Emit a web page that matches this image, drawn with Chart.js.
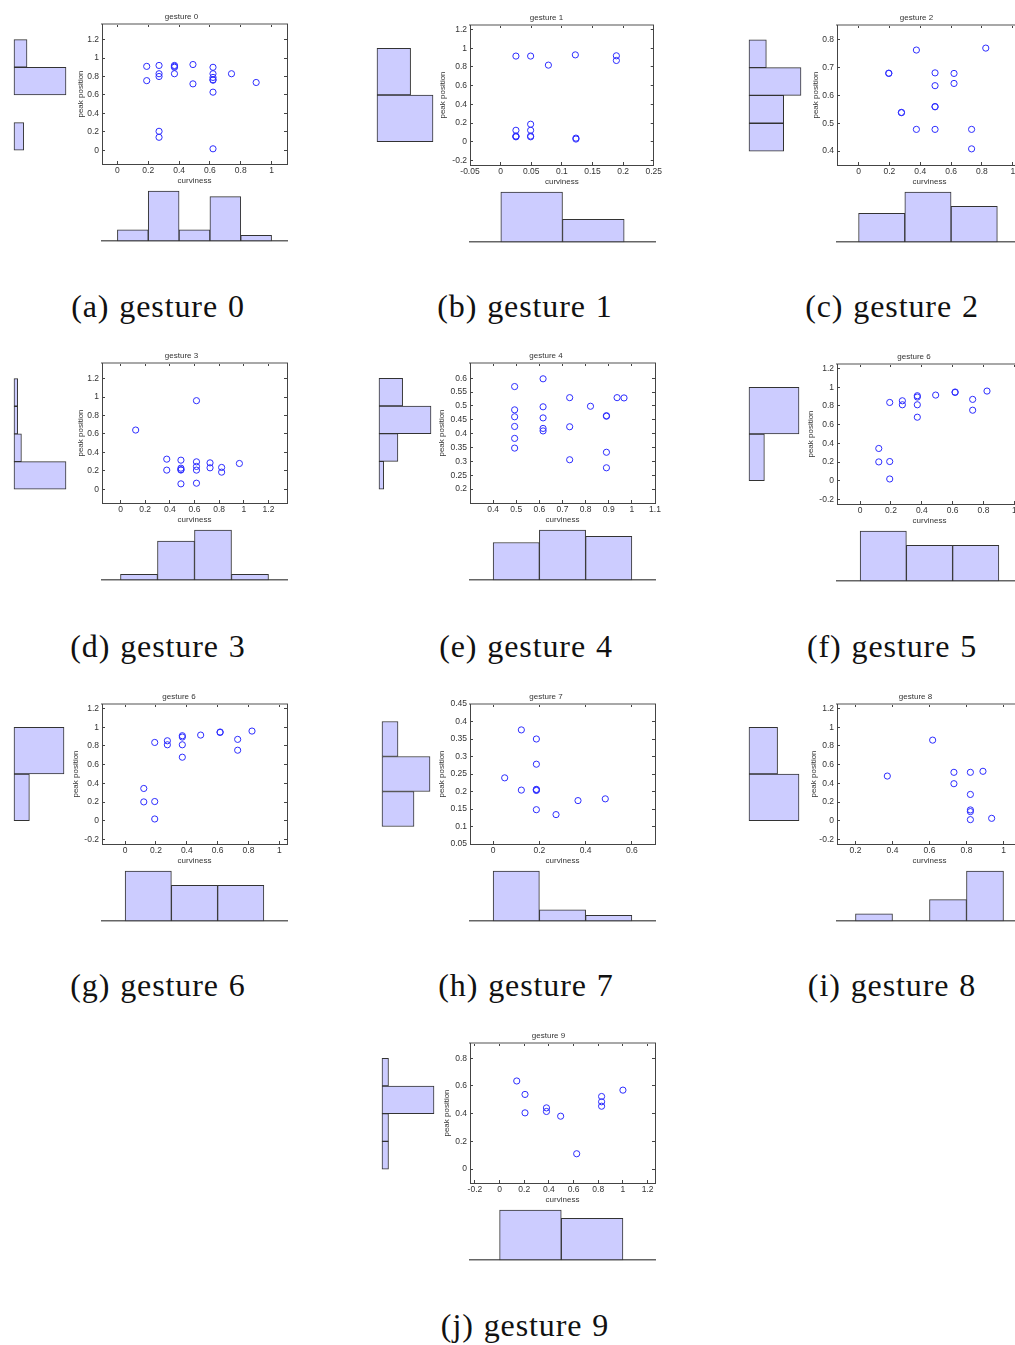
<!DOCTYPE html>
<html>
<head>
<meta charset="utf-8">
<script src="https://cdn.jsdelivr.net/npm/chart.js@4.4.0/dist/chart.umd.min.js"></script>
<style>
  html, body { margin: 0; padding: 0; background: #fff; }
  body { width: 1015px; height: 1345px; overflow: hidden; position: relative; }
  canvas.cv { position: absolute; }
  .cap {
    position: absolute; white-space: nowrap; color: #111;
    font-family: "Liberation Serif", "Times New Roman", serif;
    font-size: 32px; line-height: 32px; letter-spacing: 0.9px; word-spacing: 1px;
    transform: translateX(-50%);
  }
</style>
</head>
<body>
<script>
// ---- gesture 0 ----
const g0Curviness = [0.19,0.19,0.27,0.27,0.27,0.27,0.27,0.37,0.37,0.37,0.37,0.49,0.49,0.62,0.62,0.62,0.62,0.62,0.62,0.62,0.74,0.90];
const g0Peak      = [0.91,0.755,0.92,0.83,0.80,0.205,0.14,0.92,0.91,0.90,0.83,0.93,0.72,0.90,0.83,0.79,0.765,0.76,0.63,0.015,0.83,0.735];
const g0CurvTicks = [0,0.2,0.4,0.6,0.8,1];
const g0PeakTicks = [0,0.2,0.4,0.6,0.8,1,1.2];
const g0CurvRange = [-0.1,1.1];
const g0PeakRange = [-0.15,1.37];
const g0CurvBins = [0.1,0.3,0.5,0.7,0.9];
const g0CurvCounts = [2,9,2,8,1];
const g0PeakBins = [0.15,0.45,0.75,1.05];
const g0PeakCounts = [3,0,16,4];

// ---- gesture 1 ----
const g1Curviness = [0.025,0.025,0.025,0.025,0.025,0.049,0.049,0.049,0.049,0.049,0.078,0.122,0.123,0.123,0.189,0.189];
const g1Peak      = [0.917,0.122,0.06,0.055,0.052,0.917,0.187,0.122,0.06,0.052,0.82,0.93,0.038,0.028,0.92,0.87];
const g1CurvTicks = [-0.05,0,0.05,0.1,0.15,0.2,0.25];
const g1PeakTicks = [-0.2,0,0.2,0.4,0.6,0.8,1,1.2];
const g1CurvRange = [-0.05,0.25];
const g1PeakRange = [-0.25,1.25];
const g1CurvBins = [0.05,0.15];
const g1CurvCounts = [11,5];
const g1PeakBins = [0.25,0.75];
const g1PeakCounts = [10,6];

// ---- gesture 2 ----
const g2Curviness = [0.196,0.196,0.278,0.278,0.375,0.375,0.496,0.496,0.496,0.496,0.496,0.619,0.619,0.733,0.733,0.825];
const g2Peak      = [0.68,0.679,0.539,0.538,0.763,0.478,0.681,0.635,0.56,0.559,0.478,0.679,0.643,0.478,0.408,0.77];
const g2CurvTicks = [0,0.2,0.4,0.6,0.8,1];
const g2PeakTicks = [0.4,0.5,0.6,0.7,0.8];
const g2CurvRange = [-0.14,1.06];
const g2PeakRange = [0.35,0.853];
const g2CurvBins = [0.15,0.45,0.75];
const g2CurvCounts = [4,7,5];
const g2PeakBins = [0.45,0.55,0.65,0.75];
const g2PeakCounts = [4,4,6,2];

// ---- gesture 3 ----
const g3Curviness = [0.123,0.375,0.375,0.49,0.49,0.49,0.49,0.49,0.616,0.616,0.616,0.616,0.616,0.726,0.726,0.82,0.82,0.964];
const g3Peak      = [0.642,0.326,0.207,0.315,0.228,0.212,0.208,0.058,0.961,0.297,0.247,0.207,0.065,0.286,0.232,0.236,0.185,0.279];
const g3CurvTicks = [0,0.2,0.4,0.6,0.8,1,1.2];
const g3PeakTicks = [0,0.2,0.4,0.6,0.8,1,1.2];
const g3CurvRange = [-0.15,1.35];
const g3PeakRange = [-0.15,1.37];
const g3CurvBins = [0.15,0.45,0.75,1.05];
const g3CurvCounts = [1,7,9,1];
const g3PeakBins = [0.15,0.45,0.75,1.05];
const g3PeakCounts = [14,2,1,1];

// ---- gesture 4 ----
const g4Curviness = [0.493,0.493,0.493,0.493,0.493,0.493,0.616,0.616,0.616,0.616,0.616,0.731,0.731,0.731,0.821,0.89,0.89,0.89,0.89,0.936,0.966];
const g4Peak      = [0.57,0.486,0.461,0.426,0.383,0.348,0.598,0.497,0.457,0.419,0.41,0.53,0.425,0.306,0.499,0.465,0.463,0.333,0.277,0.53,0.529];
const g4CurvTicks = [0.4,0.5,0.6,0.7,0.8,0.9,1,1.1];
const g4PeakTicks = [0.2,0.25,0.3,0.35,0.4,0.45,0.5,0.55,0.6];
const g4CurvRange = [0.3,1.1];
const g4PeakRange = [0.15,0.655];
const g4CurvBins = [0.5,0.7,0.9];
const g4CurvCounts = [6,8,7];
const g4PeakBins = [0.25,0.35,0.45,0.55];
const g4PeakCounts = [1,4,11,5];

// ---- gesture 6 ----
const g6Curviness = [0.121,0.121,0.192,0.192,0.192,0.274,0.274,0.371,0.371,0.371,0.371,0.49,0.616,0.616,0.73,0.73,0.823];
const g6Peak      = [0.345,0.201,0.838,0.205,0.018,0.856,0.813,0.91,0.896,0.813,0.68,0.917,0.95,0.945,0.871,0.755,0.96];
const g6CurvTicks = [0,0.2,0.4,0.6,0.8,1];
const g6PeakTicks = [-0.2,0,0.2,0.4,0.6,0.8,1,1.2];
const g6CurvRange = [-0.15,1.05];
const g6PeakRange = [-0.25,1.25];
const g6CurvBins = [0.15,0.45,0.75];
const g6CurvCounts = [7,5,5];
const g6PeakBins = [0.25,0.75];
const g6PeakCounts = [4,13];

// ---- gesture 7 ----
const g7Curviness = [0.05,0.122,0.122,0.187,0.187,0.187,0.187,0.187,0.187,0.272,0.367,0.485];
const g7Peak      = [0.239,0.376,0.204,0.35,0.278,0.205,0.203,0.206,0.148,0.134,0.174,0.179];
const g7CurvTicks = [0,0.2,0.4,0.6];
const g7PeakTicks = [0.05,0.1,0.15,0.2,0.25,0.3,0.35,0.4,0.45];
const g7CurvRange = [-0.1,0.7];
const g7PeakRange = [0.05,0.45];
const g7CurvBins = [0.1,0.3,0.5];
const g7CurvCounts = [9,2,1];
const g7PeakBins = [0.15,0.25,0.35];
const g7PeakCounts = [4,6,2];

// ---- gesture 8 ----
const g8Curviness = [0.372,0.617,0.732,0.732,0.821,0.821,0.821,0.821,0.821,0.889,0.936];
const g8Peak      = [0.478,0.863,0.518,0.396,0.518,0.281,0.115,0.097,0.011,0.529,0.025];
const g8CurvTicks = [0.2,0.4,0.6,0.8,1];
const g8PeakTicks = [-0.2,0,0.2,0.4,0.6,0.8,1,1.2];
const g8CurvRange = [0.1,1.1];
const g8PeakRange = [-0.25,1.25];
const g8CurvBins = [0.3,0.5,0.7,0.9];
const g8CurvCounts = [1,0,3,7];
const g8PeakBins = [0.25,0.75];
const g8PeakCounts = [7,4];

// ---- gesture 9 ----
const g9Curviness = [0.139,0.206,0.206,0.38,0.38,0.495,0.625,0.827,0.827,0.827,1.0];
const g9Peak      = [0.636,0.539,0.406,0.442,0.416,0.382,0.111,0.524,0.486,0.454,0.57];
const g9CurvTicks = [-0.2,0,0.2,0.4,0.6,0.8,1,1.2];
const g9PeakTicks = [0,0.2,0.4,0.6,0.8];
const g9CurvRange = [-0.24,1.26];
const g9PeakRange = [-0.1,0.91];
const g9CurvBins = [0.25,0.75];
const g9CurvCounts = [6,5];
const g9PeakBins = [0.1,0.3,0.5,0.7];
const g9PeakCounts = [1,1,8,1];

const gestures = {
  g0: { x: g0Curviness, y: g0Peak, xt: g0CurvTicks, yt: g0PeakTicks, xr: g0CurvRange, yr: g0PeakRange, xb: g0CurvBins, xc: g0CurvCounts, yb: g0PeakBins, yc: g0PeakCounts },
  g1: { x: g1Curviness, y: g1Peak, xt: g1CurvTicks, yt: g1PeakTicks, xr: g1CurvRange, yr: g1PeakRange, xb: g1CurvBins, xc: g1CurvCounts, yb: g1PeakBins, yc: g1PeakCounts },
  g2: { x: g2Curviness, y: g2Peak, xt: g2CurvTicks, yt: g2PeakTicks, xr: g2CurvRange, yr: g2PeakRange, xb: g2CurvBins, xc: g2CurvCounts, yb: g2PeakBins, yc: g2PeakCounts },
  g3: { x: g3Curviness, y: g3Peak, xt: g3CurvTicks, yt: g3PeakTicks, xr: g3CurvRange, yr: g3PeakRange, xb: g3CurvBins, xc: g3CurvCounts, yb: g3PeakBins, yc: g3PeakCounts },
  g4: { x: g4Curviness, y: g4Peak, xt: g4CurvTicks, yt: g4PeakTicks, xr: g4CurvRange, yr: g4PeakRange, xb: g4CurvBins, xc: g4CurvCounts, yb: g4PeakBins, yc: g4PeakCounts },
  g6: { x: g6Curviness, y: g6Peak, xt: g6CurvTicks, yt: g6PeakTicks, xr: g6CurvRange, yr: g6PeakRange, xb: g6CurvBins, xc: g6CurvCounts, yb: g6PeakBins, yc: g6PeakCounts },
  g7: { x: g7Curviness, y: g7Peak, xt: g7CurvTicks, yt: g7PeakTicks, xr: g7CurvRange, yr: g7PeakRange, xb: g7CurvBins, xc: g7CurvCounts, yb: g7PeakBins, yc: g7PeakCounts },
  g8: { x: g8Curviness, y: g8Peak, xt: g8CurvTicks, yt: g8PeakTicks, xr: g8CurvRange, yr: g8PeakRange, xb: g8CurvBins, xc: g8CurvCounts, yb: g8PeakBins, yc: g8PeakCounts },
  g9: { x: g9Curviness, y: g9Peak, xt: g9CurvTicks, yt: g9PeakTicks, xr: g9CurvRange, yr: g9PeakRange, xb: g9CurvBins, xc: g9CurvCounts, yb: g9PeakBins, yc: g9PeakCounts }
};

// Page placement of each sub-figure (plot box corner, y-label gap, left histogram, caption).
const panels = [
  { key: 'g0', title: 'gesture 0', caption: '(a) gesture 0', left: 102, top: 24,   yGap: 21, histX: 14,  histLen: 52, capX: 158, capY: 307 },
  { key: 'g1', title: 'gesture 1', caption: '(b) gesture 1', left: 470, top: 25,   yGap: 27, histX: 377, histLen: 56, capX: 525, capY: 307 },
  { key: 'g2', title: 'gesture 2', caption: '(c) gesture 2', left: 837, top: 25,   yGap: 21, histX: 749, histLen: 52, capX: 892, capY: 307 },
  { key: 'g3', title: 'gesture 3', caption: '(d) gesture 3', left: 102, top: 363,  yGap: 21, histX: 14,  histLen: 52, capX: 158, capY: 647 },
  { key: 'g4', title: 'gesture 4', caption: '(e) gesture 4', left: 470, top: 363,  yGap: 28, histX: 379, histLen: 52, capX: 526, capY: 647 },
  { key: 'g6', title: 'gesture 6', caption: '(f) gesture 5', left: 837, top: 364,  yGap: 26, histX: 749, histLen: 50, capX: 892, capY: 647 },
  { key: 'g6', title: 'gesture 6', caption: '(g) gesture 6', left: 102, top: 704,  yGap: 26, histX: 14,  histLen: 50, capX: 158, capY: 986 },
  { key: 'g7', title: 'gesture 7', caption: '(h) gesture 7', left: 470, top: 704,  yGap: 28, histX: 382, histLen: 48, capX: 526, capY: 986 },
  { key: 'g8', title: 'gesture 8', caption: '(i) gesture 8', left: 837, top: 704,  yGap: 23, histX: 749, histLen: 50, capX: 892, capY: 986 },
  { key: 'g9', title: 'gesture 9', caption: '(j) gesture 9', left: 470, top: 1043, yGap: 23, histX: 382, histLen: 52, capX: 525, capY: 1326 }
];

const PLOT_W = 185, PLOT_H = 140;
const TITLE_H = 14, X_AXIS_H = 24, PAD_R = 12;
const HIST_GAP = 167, HIST_H = 50;
const FONT = '"Liberation Sans", Arial, Helvetica, sans-serif';
const MARK = 'rgb(45,45,255)';
const FILL = '#ccccff';
const EDGE = '#333333';

Chart.defaults.font.family = FONT;

const fmt = v => String(Math.round(v * 1000) / 1000);
const tickList = arr => arr.map(v => ({ value: v }));

function makeCanvas(x, y, w, h) {
  const c = document.createElement('canvas');
  c.className = 'cv';
  c.width = w; c.height = h;
  c.style.left = x + 'px'; c.style.top = y + 'px';
  c.style.width = w + 'px'; c.style.height = h + 'px';
  document.body.appendChild(c);
  return c;
}

const baseOptions = {
  responsive: false,
  devicePixelRatio: 1,
  animation: false,
  events: [],
  plugins: { legend: { display: false }, tooltip: { enabled: false } }
};

// Box axis with inward tick marks; top/right copies mirror the ticks without labels.
function frameAxis(position, range, ticks, extra) {
  const horizontal = position === 'top' || position === 'bottom';
  const labelled = position === 'bottom' || position === 'left';
  return Object.assign({
    type: 'linear', position, min: range[0], max: range[1], bounds: 'data', offset: false,
    afterBuildTicks: s => { s.ticks = tickList(ticks); },
    grid: { display: true, drawOnChartArea: false, drawTicks: true, tickLength: -3, color: '#444', tickColor: '#444', lineWidth: 1, offset: false },
    border: { display: true, color: position === 'top' ? '#a8a8a8' : '#444', width: position === 'top' ? 2 : 1 },
    ticks: { display: labelled, autoSkip: false, maxRotation: 0, minRotation: 0, color: '#333',
             font: { family: FONT, size: 8.5 }, padding: horizontal ? 5 : 6, callback: fmt }
  }, extra);
}

function scatterPanel(p, g) {
  const yw = Math.round(p.yGap + 4.8);
  const cv = makeCanvas(p.left - yw, p.top - TITLE_H, yw + PLOT_W + PAD_R, TITLE_H + PLOT_H + X_AXIS_H);
  new Chart(cv, {
    type: 'scatter',
    data: {
      datasets: [{
        data: g.x.map((x, i) => ({ x, y: g.y[i] })),
        pointStyle: 'circle', pointRadius: 3.1, pointHoverRadius: 3.1,
        borderColor: MARK, backgroundColor: 'rgba(0,0,0,0)', borderWidth: 1
      }]
    },
    options: Object.assign({}, baseOptions, {
      layout: { padding: { left: 0, right: PAD_R, top: 0, bottom: 0 } },
      plugins: {
        legend: { display: false }, tooltip: { enabled: false },
        title: { display: true, text: p.title, color: '#333', font: { family: FONT, size: 8, weight: 'normal', lineHeight: 1.2 }, padding: { top: 2, bottom: 2.4 } }
      },
      scales: {
        x: frameAxis('bottom', g.xr, g.xt, {
          afterFit: s => { s.height = X_AXIS_H; },
          title: { display: true, text: 'curviness', color: '#333', font: { family: FONT, size: 8, lineHeight: 1.2 }, padding: { top: 0, bottom: 2 } }
        }),
        x2: frameAxis('top', g.xr, g.xt, { afterFit: s => { s.height = 0; } }),
        y: frameAxis('left', g.yr, g.yt, {
          afterFit: s => { s.width = yw; },
          title: { display: true, text: 'peak position', color: '#333', font: { family: FONT, size: 8, lineHeight: 1.2 }, padding: { top: 0, bottom: 0 } }
        }),
        y2: frameAxis('right', g.yr, g.yt, { afterFit: s => { s.width = 0; } })
      }
    })
  });
}

function histDataset(points) {
  return {
    data: points,
    backgroundColor: FILL, borderColor: EDGE, borderWidth: 1, borderSkipped: false,
    barPercentage: 1, categoryPercentage: 1, clip: false
  };
}

// Curviness histogram under the scatter plot, sharing its horizontal scale.
function bottomHist(p, g) {
  const cv = makeCanvas(p.left - 2, p.top + HIST_GAP - 2, PLOT_W + 4, HIST_H + 4);
  new Chart(cv, {
    type: 'bar',
    data: { datasets: [histDataset(g.xb.map((b, i) => ({ x: b, y: g.xc[i] })))] },
    options: Object.assign({}, baseOptions, {
      layout: { padding: 2 },
      scales: {
        x: { type: 'linear', position: 'bottom', min: g.xr[0], max: g.xr[1], bounds: 'data', offset: false,
             afterBuildTicks: s => { s.ticks = tickList(g.xb); },
             afterFit: s => { s.height = 0; },
             grid: { display: false, drawTicks: false, offset: false }, ticks: { display: false },
             border: { display: true, color: '#666', width: 1.5 } },
        y: { type: 'linear', min: 0, max: Math.max(...g.xc), display: false }
      }
    })
  });
}

// Peak-position histogram to the left, sharing the scatter's vertical scale.
function leftHist(p, g) {
  const cv = makeCanvas(p.histX - 2, p.top - 2, p.histLen + 4, PLOT_H + 4);
  new Chart(cv, {
    type: 'bar',
    data: { datasets: [histDataset(g.yb.map((b, i) => ({ y: b, x: g.yc[i] })))] },
    options: Object.assign({}, baseOptions, {
      indexAxis: 'y',
      layout: { padding: 2 },
      scales: {
        y: { type: 'linear', position: 'left', min: g.yr[0], max: g.yr[1], bounds: 'data', offset: false,
             afterBuildTicks: s => { s.ticks = tickList(g.yb); },
             display: false, grid: { offset: false } },
        x: { type: 'linear', min: 0, max: Math.max(...g.yc), display: false }
      }
    })
  });
}

function caption(p) {
  const d = document.createElement('div');
  d.className = 'cap';
  d.textContent = p.caption;
  d.style.left = p.capX + 'px';
  d.style.top = (p.capY - 17) + 'px';
  document.body.appendChild(d);
}

panels.forEach(p => {
  const g = gestures[p.key];
  leftHist(p, g);
  scatterPanel(p, g);
  bottomHist(p, g);
  caption(p);
});
</script>
</body>
</html>
